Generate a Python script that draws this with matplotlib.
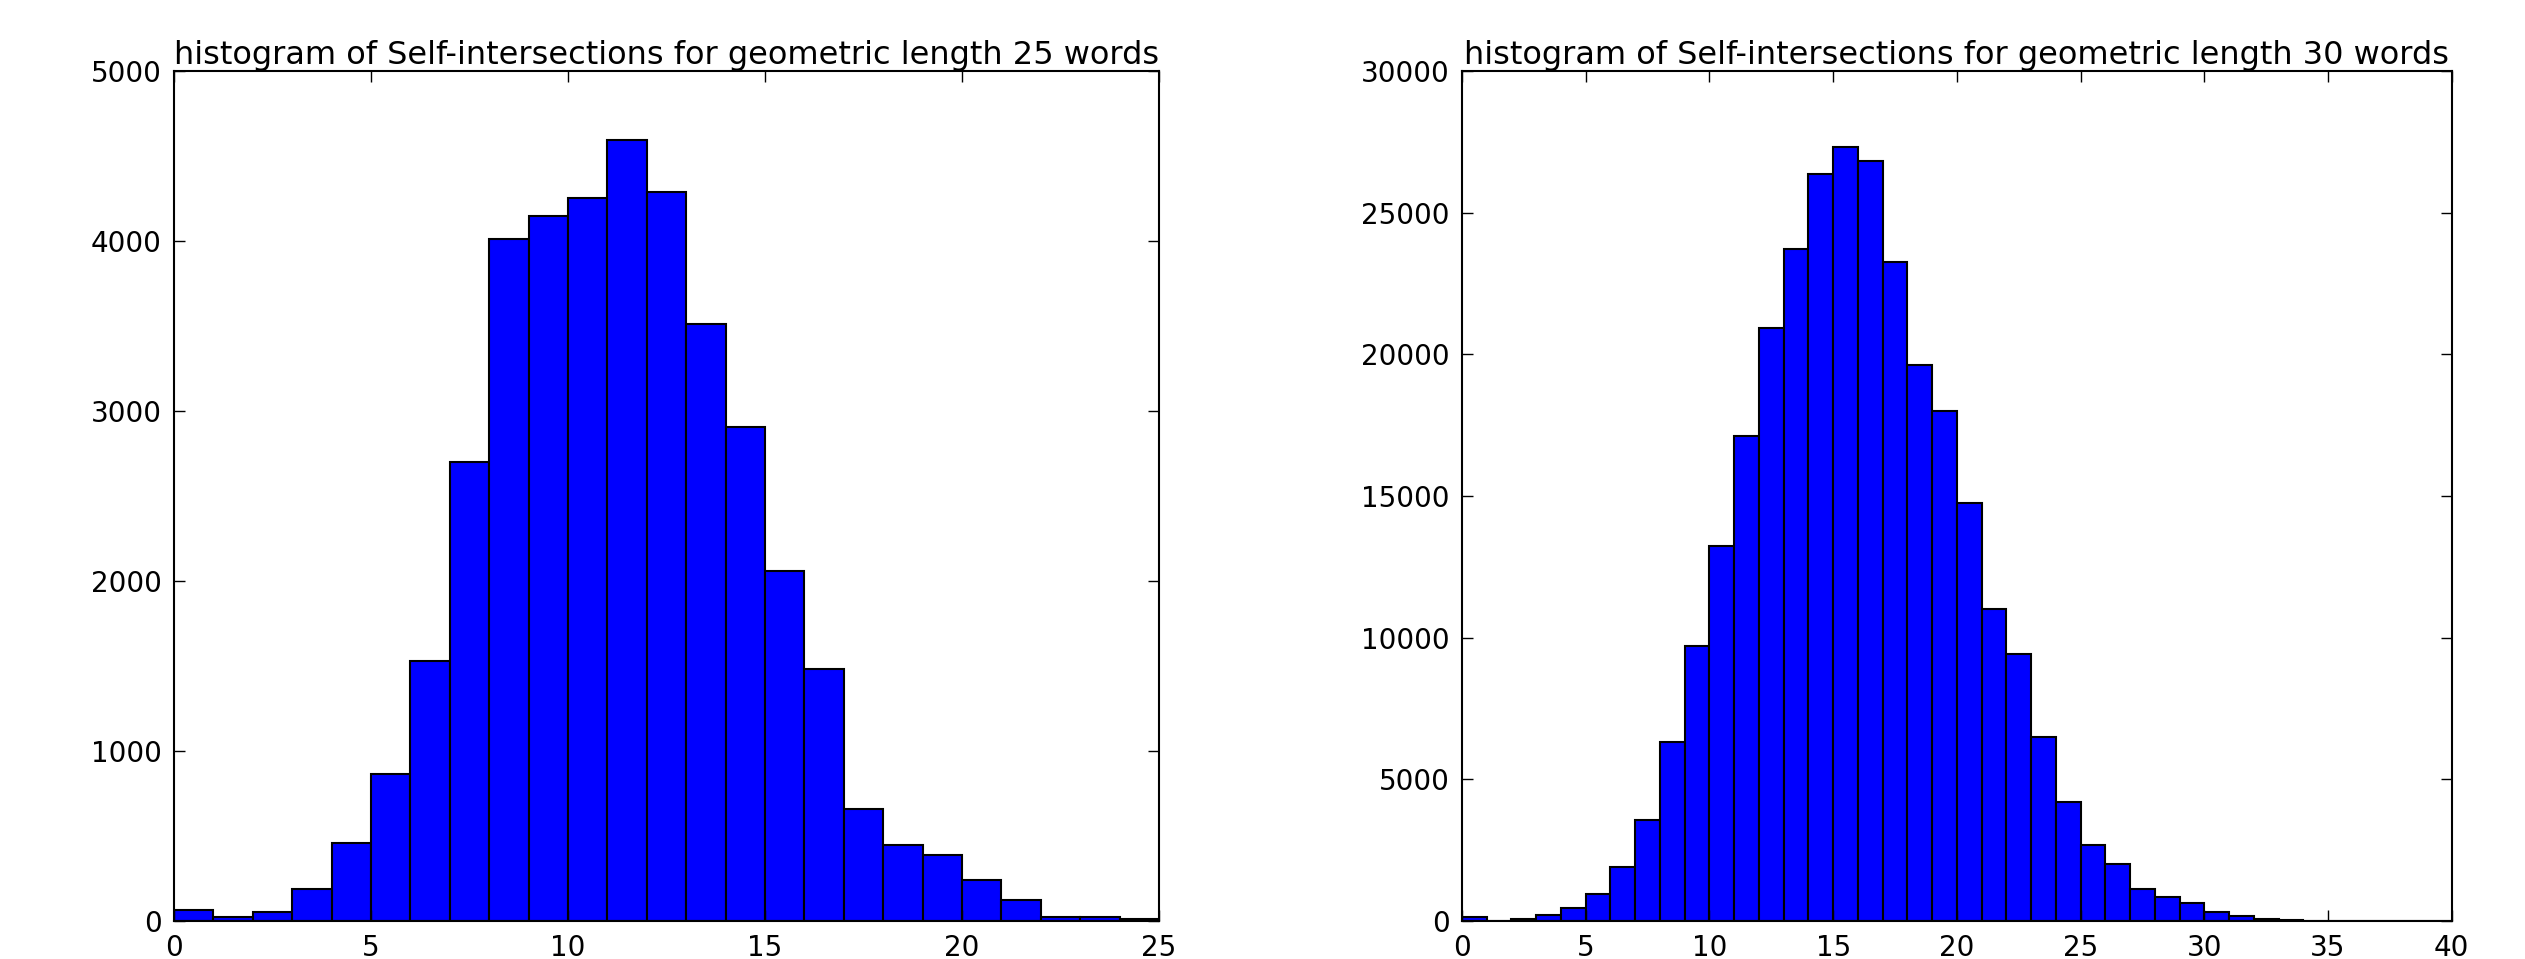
import numpy as np
import matplotlib
matplotlib.use('Agg')
import matplotlib.pyplot as plt

# counts per unit bin
edges25 = list(range(0, 25))
counts25 = [65, 22, 54, 187, 460, 867, 1532, 2698, 4011, 4147, 4252, 4594, 4291,
            3511, 2906, 2061, 1482, 658, 450, 388, 241, 126, 25, 25, 11]

edges30 = list(range(0, 40))
counts30 = [130, 15, 65, 215, 450, 950, 1900, 3560, 6320, 9710, 13250, 17120,
            20940, 23700, 26380, 27300, 26810, 23250, 19620, 18000, 14760, 11010,
            9430, 6500, 4190, 2680, 2010, 1120, 860, 630, 320, 170, 85, 30, 10, 5,
            3, 2, 1, 1]

titles = ['histogram of Self-intersections for geometric length 25 words',
          'histogram of Self-intersections for geometric length 30 words']

plt.rcParams['font.family'] = ['DejaVu Sans']

fig = plt.figure(figsize=(25.25, 9.59), dpi=100, facecolor='white')
ax1 = fig.add_axes([0.0689, 0.0396, 0.3901, 0.8864])
ax2 = fig.add_axes([0.579, 0.0396, 0.392, 0.8864])

def draw(ax, x, h, xmax, ymax, title):
    ax.bar(x, h, width=1, align='edge', color='#0000ff', edgecolor='black', linewidth=1.5)
    ax.set_xlim(0, xmax)
    ax.set_ylim(0, ymax)
    ax.set_title(title, fontsize=23, pad=5)
    ax.tick_params(direction='in', top=True, right=True, length=8, width=1,
                   labelsize=20, pad=9)
    for s in ax.spines.values():
        s.set_linewidth(1.5)

draw(ax1, edges25, counts25, 25, 5000, titles[0])
draw(ax2, edges30, counts30, 40, 30000, titles[1])
ax1.set_xticks(np.arange(0, 26, 5))
ax1.set_yticks(np.arange(0, 5001, 1000))
ax2.set_xticks(np.arange(0, 41, 5))
ax2.set_yticks(np.arange(0, 30001, 5000))

fig.savefig('out.png', dpi=100, facecolor='white')
